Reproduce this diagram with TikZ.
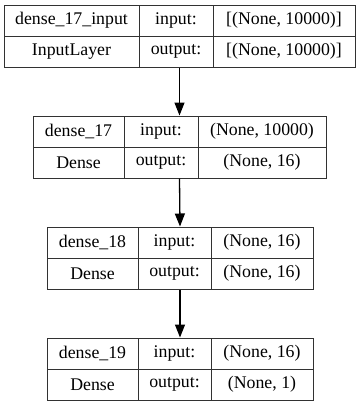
\documentclass[tikz,border=0pt]{standalone}
\usepackage{fontspec}
\setmainfont{Liberation Serif}
\usepackage{tikz}
\usetikzlibrary{arrows.meta}
\usepackage{xcolor}
\definecolor{linegray}{RGB}{50,50,50}

\begin{document}
\begin{tikzpicture}[
    x=1pt, y=-1pt,
    cell/.style={draw=linegray, line width=1pt, inner sep=0pt,
                 minimum height=31pt, font=\fontsize{17.8}{20}\selectfont},
    frame/.style={draw=linegray, line width=1pt, inner sep=0pt},
    arr/.style={-{Triangle[length=13pt, width=10pt]}, line width=1.3pt, black}
]
\useasboundingbox (0,0) rectangle (360,405);

% Couche 1 : dense_17_input
\node[frame, minimum width=351pt, minimum height=62pt] (inp) at (179.5,36) {};
\node[cell, minimum width=135pt] (inpname) at (71.5,20.5) {dense\_17\_input};
\node[cell, minimum width=74pt]  (inpin)   at (176,20.5)  {input:};
\node[cell, minimum width=142pt] (inpinv)  at (284,20.5)  {[(None, 10000)]};
\node[cell, minimum width=135pt] (inptype) at (71.5,51.5) {InputLayer};
\node[cell, minimum width=74pt]  (inpout)  at (176,51.5)  {output:};
\node[cell, minimum width=142pt] (inpoutv) at (284,51.5)  {[(None, 10000)]};

% Couche 2 : dense_17
\node[frame, minimum width=293pt, minimum height=62pt] (d17) at (179.5,147) {};
\node[cell, minimum width=91pt]  (d17name) at (78.5,131.5) {dense\_17};
\node[cell, minimum width=74pt]  (d17in)   at (161,131.5)  {input:};
\node[cell, minimum width=128pt] (d17inv)  at (262,131.5)  {(None, 10000)};
\node[cell, minimum width=91pt]  (d17type) at (78.5,162.5) {Dense};
\node[cell, minimum width=74pt]  (d17out)  at (161,162.5)  {output:};
\node[cell, minimum width=128pt] (d17outv) at (262,162.5)  {(None, 16)};

% Couche 3 : dense_18
\node[frame, minimum width=266pt, minimum height=62pt] (d18) at (180,258) {};
\node[cell, minimum width=91pt]  (d18name) at (92.5,242.5) {dense\_18};
\node[cell, minimum width=73pt]  (d18in)   at (174.5,242.5) {input:};
\node[cell, minimum width=102pt] (d18inv)  at (262,242.5)  {(None, 16)};
\node[cell, minimum width=91pt]  (d18type) at (92.5,273.5) {Dense};
\node[cell, minimum width=73pt]  (d18out)  at (174.5,273.5) {output:};
\node[cell, minimum width=102pt] (d18outv) at (262,273.5)  {(None, 16)};

% Couche 4 : dense_19
\node[frame, minimum width=266pt, minimum height=62pt] (d19) at (180,369) {};
\node[cell, minimum width=91pt]  (d19name) at (92.5,353.5) {dense\_19};
\node[cell, minimum width=73pt]  (d19in)   at (174.5,353.5) {input:};
\node[cell, minimum width=102pt] (d19inv)  at (262,353.5)  {(None, 16)};
\node[cell, minimum width=91pt]  (d19type) at (92.5,384.5) {Dense};
\node[cell, minimum width=73pt]  (d19out)  at (174.5,384.5) {output:};
\node[cell, minimum width=102pt] (d19outv) at (262,384.5)  {(None, 1)};

% Flèches entre couches
\foreach \src/\dst in {inp/d17, d17/d18, d18/d19}
    \draw[arr] (\src.south) -- (\dst.north);

\end{tikzpicture}
\end{document}
